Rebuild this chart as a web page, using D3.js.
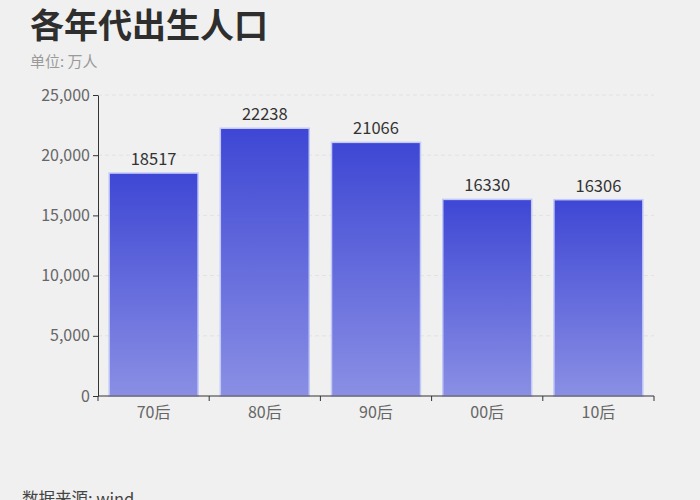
<!DOCTYPE html>
<html>
<head>
<meta charset="utf-8">
<title>各年代出生人口</title>
<script src="https://cdn.jsdelivr.net/npm/d3@7"></script>
<style>
  body { margin: 0; background: #f0f0f0; font-family: "Noto Sans CJK SC", "Noto Sans", sans-serif; }
</style>
</head>
<body>
<script>
// data
var categories = ["70后", "80后", "90后", "00后", "10后"];
var births = [18517, 22238, 21066, 16330, 16306];
var yTicks = [0, 5000, 10000, 15000, 20000, 25000];

var W = 700, H = 500;
var margin = {top: 95, right: 46, bottom: 104, left: 98};
var width = W - margin.left - margin.right,
    height = H - margin.top - margin.bottom;

var svg = d3.select("body").append("svg").attr("width", W).attr("height", H);
svg.append("rect").attr("width", W).attr("height", H).attr("fill", "#f0f0f0");

var defs = svg.append("defs");
var grad = defs.append("linearGradient").attr("id", "barGrad")
  .attr("x1", 0).attr("y1", 0).attr("x2", 0).attr("y2", 1);
grad.append("stop").attr("offset", "0%").attr("stop-color", "#3e47d4");
grad.append("stop").attr("offset", "100%").attr("stop-color", "#8a8fe4");

svg.append("text").text("各年代出生人口")
  .attr("x", 30).attr("y", 38)
  .attr("font-size", "34px").attr("font-weight", "bold").attr("fill", "#2e2e2e");
svg.append("text").text("单位: 万人")
  .attr("x", 30).attr("y", 67)
  .attr("font-size", "15px").attr("fill", "#9a9a9a");
svg.append("text").text("数据来源: wind")
  .attr("x", 22).attr("y", 505)
  .attr("font-size", "16.5px").attr("fill", "#444");

var g = svg.append("g").attr("transform", "translate(" + margin.left + "," + margin.top + ")");

var x = d3.scaleBand().domain(categories).range([0, width]).paddingInner(0.2).paddingOuter(0.1);
var y = d3.scaleLinear().domain([0, 25000]).range([height, 0]);

// grid
g.append("g").selectAll("line").data(yTicks.slice(1)).enter().append("line")
  .attr("x1", 0).attr("x2", width)
  .attr("y1", function(d) { return y(d); }).attr("y2", function(d) { return y(d); })
  .attr("stroke", "#e2e2e2").attr("stroke-dasharray", "4,3");

// bars
g.append("g").selectAll("rect").data(births).enter().append("rect")
  .attr("x", function(d, i) { return x(categories[i]); })
  .attr("y", function(d) { return y(d); })
  .attr("width", x.bandwidth())
  .attr("height", function(d) { return height - y(d); })
  .attr("fill", "url(#barGrad)")
  .attr("stroke", "#c3c9f7").attr("stroke-width", 1.5);

g.append("g").selectAll("text").data(births).enter().append("text")
  .attr("x", function(d, i) { return x(categories[i]) + x.bandwidth() / 2; })
  .attr("y", function(d) { return y(d) - 8; })
  .attr("text-anchor", "middle")
  .attr("font-size", "16.5px").attr("fill", "#333")
  .text(function(d) { return d; });

// y axis
var yAxis = d3.axisLeft(y).tickValues(yTicks).tickFormat(d3.format(",")).tickSize(5).tickSizeOuter(0);
var ya = g.append("g").call(yAxis);
ya.select(".domain").attr("stroke", "#333");
ya.selectAll(".tick line").attr("stroke", "#333");
ya.selectAll(".tick text").attr("font-size", "16px").attr("fill", "#666")
  .attr("font-family", "'Noto Sans CJK SC', sans-serif");

// x axis, ticks at band boundaries
var xa = g.append("g").attr("transform", "translate(0," + height + ")");
xa.append("line").attr("x1", 0).attr("x2", width).attr("stroke", "#333");
var step = x.step();
var bounds = categories.map(function(c) { return x(c) - x.paddingInner() * step / 2; });
bounds.push(width);
xa.selectAll(".bt").data(bounds).enter().append("line").attr("class", "bt")
  .attr("x1", function(d) { return d; }).attr("x2", function(d) { return d; })
  .attr("y1", 0).attr("y2", 5).attr("stroke", "#333");
xa.selectAll(".xl").data(categories).enter().append("text").attr("class", "xl")
  .attr("x", function(d) { return x(d) + x.bandwidth() / 2; })
  .attr("y", 22)
  .attr("text-anchor", "middle")
  .attr("font-size", "16px").attr("fill", "#666")
  .text(function(d) { return d; });
</script>
</body>
</html>
